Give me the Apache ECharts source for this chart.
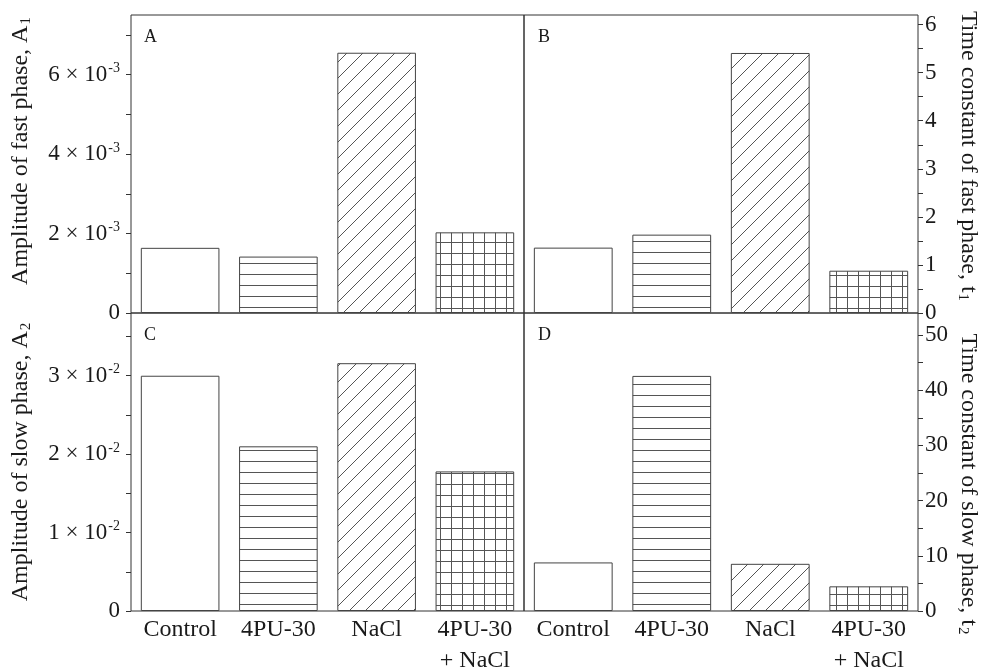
<!DOCTYPE html>
<html>
<head>
<meta charset="utf-8">
<script src="https://cdn.jsdelivr.net/npm/echarts@6/dist/echarts.min.js"></script>
<style>html,body{margin:0;padding:0;background:#fff}#c{width:985px;height:670px}</style>
</head>
<body>
<div id="c"></div>
<script>
// ---- data ----
const categories = ['Control', '4PU-30', 'NaCl', '4PU-30\n+ NaCl'];
const amplitudeFast = [1.64e-3, 1.42e-3, 6.55e-3, 2.03e-3];   // A1
const timeFast = [1.36, 1.63, 5.41, 0.88];                     // t1
const amplitudeSlow = [3.0e-2, 2.1e-2, 3.16e-2, 1.78e-2];      // A2
const timeSlow = [8.8, 42.6, 8.55, 4.47];                      // t2
const ticksA = [0, 1e-3, 2e-3, 3e-3, 4e-3, 5e-3, 6e-3, 7e-3];
const labelsA = [0, 2e-3, 4e-3, 6e-3];
const ticksB = [0, 0.5, 1, 1.5, 2, 2.5, 3, 3.5, 4, 4.5, 5, 5.5, 6];
const labelsB = [0, 1, 2, 3, 4, 5, 6];
const ticksC = [0, 0.5e-2, 1e-2, 1.5e-2, 2e-2, 2.5e-2, 3e-2, 3.5e-2];
const labelsC = [0, 1e-2, 2e-2, 3e-2];
const ticksD = [0, 5, 10, 15, 20, 25, 30, 35, 40, 45, 50];
const labelsD = [0, 10, 20, 30, 40, 50];

const FONT = 'Liberation Serif';
const TXT = '#1a1a1a';
const LINE = '#333';

// ---- patterns ----
function makeCanvas(w, h, draw) {
  const c = document.createElement('canvas');
  c.width = w; c.height = h;
  const g = c.getContext('2d');
  g.fillStyle = '#fff'; g.fillRect(0, 0, w, h);
  g.strokeStyle = '#555'; g.lineWidth = 1;
  draw(g);
  return c;
}
const pHoriz = makeCanvas(4, 11, g => { g.beginPath(); g.moveTo(0, 10.5); g.lineTo(4, 10.5); g.stroke(); });
const pDiag = makeCanvas(16, 16, g => {
  g.beginPath();
  g.moveTo(0, 16); g.lineTo(16, 0);
  g.moveTo(-2, 2); g.lineTo(2, -2);
  g.moveTo(14, 18); g.lineTo(18, 14);
  g.stroke();
});
const pGrid = makeCanvas(11, 11, g => {
  g.beginPath();
  g.moveTo(0.5, 0); g.lineTo(0.5, 11);
  g.moveTo(0, 0.5); g.lineTo(11, 0.5);
  g.stroke();
});
const fills = ['#fff', { image: pHoriz, repeat: 'repeat' }, { image: pDiag, repeat: 'repeat' }, { image: pGrid, repeat: 'repeat' }];

// ---- helpers ----
const tickRich = {
  n: { fontFamily: FONT, fontSize: 23, color: TXT, lineHeight: 26 },
  s: { fontFamily: FONT, fontSize: 14, color: TXT, lineHeight: 26, verticalAlign: 'top', padding: [0, 0, 0, 1] }
};
const nameRich = {
  n: { fontFamily: FONT, fontSize: 24, color: TXT, lineHeight: 26 },
  sub: { fontFamily: FONT, fontSize: 15, color: TXT, lineHeight: 26, verticalAlign: 'bottom', padding: [8, 0, 0, 1] }
};
function sciFmt(scale, exp) {
  return v => {
    if (Math.abs(v) < 1e-12) return '{n|0}';
    return '{n|' + Math.round(v / scale) + ' × 10}{s|' + exp + '}';
  };
}
function yAxis(gi, pos, max, ticks, labels, fmt, name, gap, rot, margin, namePad) {
  return {
    type: 'value', gridIndex: gi, position: pos, min: 0, max: max,
    axisLine: { show: false },
    splitLine: { show: false },
    axisTick: { show: true, inside: false, length: 5, customValues: ticks, lineStyle: { color: LINE } },
    axisLabel: { show: true, customValues: labels, margin: margin, formatter: fmt, rich: tickRich, color: TXT },
    name: name, nameLocation: 'middle', nameGap: gap, nameRotate: rot,
    nameTextStyle: { rich: nameRich, padding: namePad }
  };
}
function xAxis(gi, showLabel) {
  return {
    type: 'category', gridIndex: gi, data: categories,
    axisLine: { show: false }, axisTick: { show: false }, splitLine: { show: false },
    axisLabel: { show: showLabel, interval: 0, margin: 3, fontFamily: FONT, fontSize: 24, color: TXT, lineHeight: 31 }
  };
}
function series(gi, vals) {
  return {
    type: 'bar', xAxisIndex: gi, yAxisIndex: gi, barWidth: '80%',
    data: vals.map((v, i) => ({ value: v, itemStyle: { color: fills[i] } })),
    itemStyle: { borderColor: '#444', borderWidth: 1 },
    emphasis: { disabled: true }, silent: true
  };
}
const gridBase = { show: true, borderColor: LINE, borderWidth: 1, backgroundColor: 'transparent', containLabel: false, outerBoundsMode: 'none' };

const option = {
  animation: false,
  backgroundColor: '#fff',
  title: [
    { text: 'A', left: 139, top: 23 },
    { text: 'B', left: 533, top: 23 },
    { text: 'C', left: 139, top: 321 },
    { text: 'D', left: 533, top: 321 }
  ].map(t => Object.assign(t, { textStyle: { fontFamily: FONT, fontSize: 18, fontWeight: 'normal', color: TXT } })),
  grid: [
    Object.assign({ left: 131, top: 15, width: 393, height: 298 }, gridBase),
    Object.assign({ left: 524, top: 15, width: 394, height: 298 }, gridBase),
    Object.assign({ left: 131, top: 313, width: 393, height: 298 }, gridBase),
    Object.assign({ left: 524, top: 313, width: 394, height: 298 }, gridBase)
  ],
  xAxis: [xAxis(0, false), xAxis(1, false), xAxis(2, true), xAxis(3, true)],
  yAxis: [
    yAxis(0, 'left', 7.5e-3, ticksA, labelsA, sciFmt(1e-3, '-3'), '{n|Amplitude of fast phase, A}{sub|1}', 97, 90, 11, [0, 0, 0, 26]),
    yAxis(1, 'right', 6.2, ticksB, labelsB, v => '{n|' + v + '}', '{n|Time constant of fast phase, t}{sub|1}', 37, -90, 7, [0, 16, 0, 0]),
    yAxis(2, 'left', 0.038, ticksC, labelsC, sciFmt(1e-2, '-2'), '{n|Amplitude of slow phase, A}{sub|2}', 97, 90, 11, [0, 0, 0, 0]),
    yAxis(3, 'right', 54, ticksD, labelsD, v => '{n|' + v + '}', '{n|Time constant of slow phase, t}{sub|2}', 37, -90, 7, [0, 0, 0, 44])
  ],
  series: [series(0, amplitudeFast), series(1, timeFast), series(2, amplitudeSlow), series(3, timeSlow)]
};
echarts.init(document.getElementById('c'), null, { renderer: 'canvas' }).setOption(option);
</script>
</body>
</html>
